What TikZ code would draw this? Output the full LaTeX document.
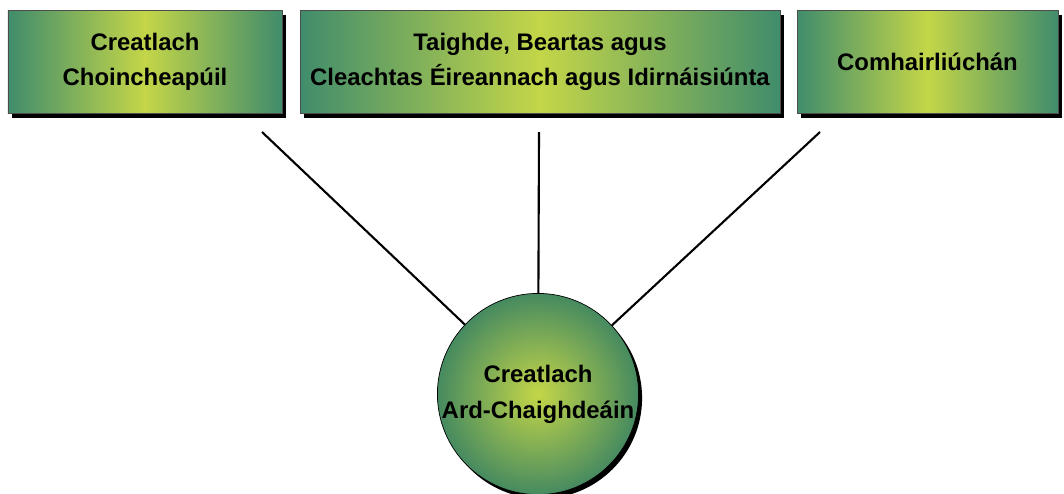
\documentclass[tikz,border=0pt]{standalone}
\usepackage{fontspec}
\setmainfont{Liberation Sans}
\usepackage{tikz}
\usetikzlibrary{shadows,positioning,calc}
\definecolor{myedgegreen}{RGB}{64,140,108}
\definecolor{mymidyellow}{RGB}{196,214,72}
\definecolor{mycircedge}{RGB}{70,138,96}
\tikzstyle{box}=[draw=black!70,thin,left color=myedgegreen,right color=myedgegreen,middle color=mymidyellow,
  minimum height=2.06cm,inner sep=0pt,align=center,font=\fontsize{13.6pt}{19.8pt}\selectfont\bfseries,
  drop shadow={shadow xshift=0.07cm,shadow yshift=-0.1cm,fill=black,opacity=1}]
\tikzstyle{hub}=[draw=black,thin,circle,inner color=mymidyellow,outer color=mycircedge,minimum size=3.92cm,
  inner sep=0pt,align=center,font=\fontsize{13.6pt}{20.5pt}\selectfont\bfseries,
  drop shadow={shadow xshift=0.07cm,shadow yshift=-0.08cm,fill=black,opacity=1}]

\begin{document}
\begin{tikzpicture}[line width=1.2pt]
\useasboundingbox (0,0) rectangle (21.28,-9.86);
\draw (2.9, -1.23) node [box,minimum width=5.48cm] (b1) {Creatlach\\Choincheapúil};
\draw (10.8, -1.23) node [box,minimum width=9.6cm] (b2) {Taighde, Beartas agus\\Cleachtas Éireannach agus Idirnáisiúnta};
\draw (18.55, -1.23) node [box,minimum width=5.22cm] (b3) {Comhairliúchán};
\draw (10.76, -7.88) node [hub] (hub) {Creatlach\\Ard-Chaighdeáin};
\coordinate (c1) at (5.24, -2.64);
\coordinate (c2) at (10.78, -2.64);
\coordinate (c3) at (16.4, -2.64);
\draw (c1) -- (hub);
\draw (c2) -- (hub);
\draw (c3) -- (hub);
\end{tikzpicture}
\end{document}
